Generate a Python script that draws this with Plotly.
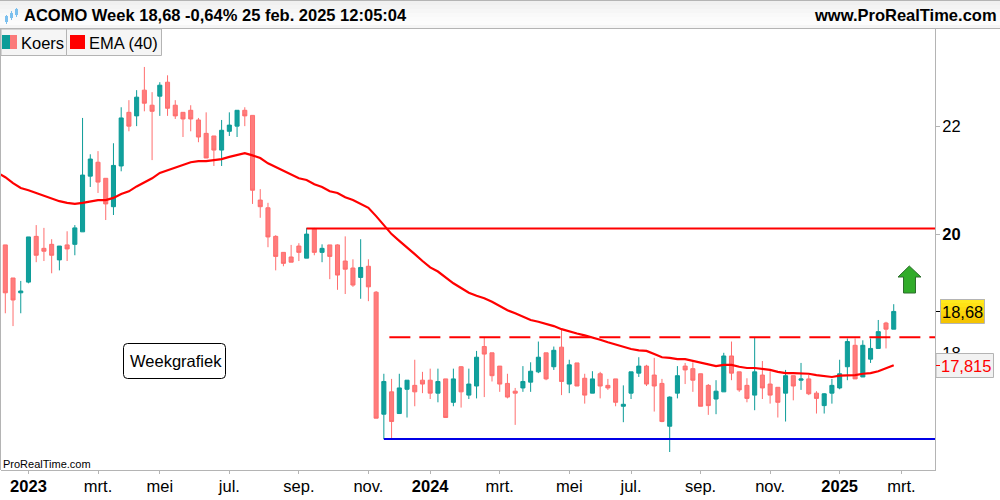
import math
import pandas as pd
import plotly.graph_objects as go

# weekly candles ACOMO
first_week = "2022-12-12"
opens = [19.81,19.24,18.99,19.17,19.96,19.75,19.82,19.55,19.81,19.82,20.04,21.05,21.31,21.01,20.49,21.24,22.27,22.20,22.71,22.41,
         22.59,22.87,22.41,22.27,22.31,22.12,21.86,21.81,21.54,21.90,22.00,22.31,22.21,20.61,20.47,19.96,19.68,19.60,19.79,19.58,
         20.09,19.68,19.81,19.81,19.53,19.41,19.25,19.44,19.00,17.06,17.40,17.07,17.44,17.50,17.58,17.58,17.38,17.60,17.24,17.79,
         17.35,17.49,18.11,18.01,17.80,17.53,17.41,17.46,17.55,17.71,18.01,17.79,18.10,17.52,17.85,17.61,17.38,17.68,17.50,17.60,
         17.18,17.38,17.69,17.80,17.66,17.53,16.88,17.38,17.80,17.76,17.68,17.50,17.29,17.40,17.96,17.71,17.50,17.35,17.66,17.52,
         17.47,17.38,17.65,17.58,17.60,17.38,17.19,17.38,17.46,17.79,18.13,17.63,17.91,18.08,18.49,18.39]
highs = [19.81,19.24,19.19,19.95,20.16,20.11,19.91,19.79,20.05,20.16,22.16,21.46,21.52,21.01,21.67,22.37,22.51,22.71,23.18,22.67,
         22.87,23.01,22.51,22.27,22.41,22.16,22.27,21.81,22.12,22.27,22.31,22.37,22.21,20.81,20.56,19.98,19.68,19.81,19.84,20.11,
         20.11,19.82,19.81,19.82,19.96,19.56,19.91,19.56,19.02,17.68,17.60,17.68,17.58,17.90,17.71,17.76,17.76,17.60,17.76,17.80,
         17.76,18.04,18.26,18.01,17.80,17.68,17.46,17.80,17.86,18.19,18.01,18.11,18.39,17.90,17.85,17.68,17.72,17.71,17.60,17.60,
         17.50,17.71,17.94,17.82,17.93,17.60,17.33,17.80,17.85,17.86,17.68,17.52,17.58,18.01,18.19,17.71,17.61,18.26,17.88,17.72,
         17.47,17.74,17.65,17.85,17.66,17.41,17.38,17.60,17.90,18.24,18.24,18.21,18.24,18.54,18.51,18.80]
lows = [18.65,18.44,18.65,19.15,19.51,19.53,19.32,19.37,19.53,19.63,20.04,20.85,20.74,20.25,20.34,21.14,21.90,22.00,22.29,21.35,
        22.20,22.20,22.14,21.79,21.90,21.69,21.39,21.24,21.24,21.81,21.79,22.00,20.54,20.29,19.77,19.37,19.44,19.51,19.53,19.58,
        19.63,19.51,19.22,19.04,18.97,19.09,18.89,18.85,17.00,16.69,16.69,17.07,17.01,17.18,17.38,17.29,17.24,17.01,17.18,17.16,
        17.29,17.30,17.32,17.56,17.40,17.30,16.90,17.40,17.40,17.69,17.58,17.74,17.35,17.38,17.49,17.22,17.38,17.30,17.43,17.18,
        16.94,17.29,17.63,17.49,17.10,16.94,16.50,17.30,17.52,17.40,17.18,17.05,17.06,17.40,17.58,17.40,17.24,17.12,17.29,17.22,
        17.01,16.95,17.27,17.43,17.35,17.07,17.07,17.22,17.44,17.58,17.60,17.63,17.85,18.08,18.08,18.39]
closes = [18.99,18.87,19.02,19.95,19.63,19.70,19.63,19.79,19.74,20.11,21.07,21.37,20.94,20.54,21.25,22.16,22.00,22.57,22.45,22.29,
          22.81,22.35,22.20,22.14,22.14,21.79,21.39,21.54,21.92,22.02,22.31,22.20,20.79,20.49,19.95,19.61,19.49,19.51,19.68,20.00,
          19.68,19.75,19.61,19.29,19.39,19.12,19.42,19.09,17.00,17.56,16.95,17.46,17.58,17.40,17.52,17.38,17.56,17.01,17.60,17.40,
          17.52,17.94,17.99,17.65,17.52,17.32,17.38,17.56,17.72,17.94,17.60,18.05,17.56,17.82,17.49,17.35,17.60,17.49,17.46,17.24,
          17.21,17.71,17.80,17.52,17.49,16.95,17.32,17.65,17.74,17.58,17.18,17.19,17.41,17.96,17.69,17.43,17.30,17.71,17.46,17.35,
          17.24,17.65,17.49,17.60,17.37,17.30,17.37,17.50,17.68,18.19,17.60,18.13,18.08,18.35,18.39,18.68]
# one week earlier than the candles so the line reaches the left edge
ema40 = [21.11,21.03,20.92,20.83,20.79,20.74,20.68,20.63,20.59,20.56,20.54,20.56,20.59,20.61,20.61,20.65,20.72,20.77,20.86,20.94,21.01,
         21.11,21.16,21.20,21.25,21.31,21.33,21.33,21.35,21.37,21.41,21.44,21.48,21.44,21.39,21.29,21.22,21.14,21.07,21.01,20.98,
         20.90,20.85,20.77,20.74,20.66,20.61,20.54,20.47,20.32,20.16,20.00,19.88,19.77,19.65,19.53,19.42,19.35,19.25,19.15,19.07,
         18.99,18.94,18.90,18.84,18.77,18.70,18.65,18.59,18.54,18.51,18.48,18.44,18.39,18.35,18.32,18.29,18.26,18.22,18.18,18.14,
         18.10,18.07,18.05,18.04,17.99,17.94,17.93,17.91,17.91,17.88,17.85,17.83,17.80,17.82,17.82,17.79,17.77,17.77,17.76,17.74,
         17.71,17.69,17.69,17.69,17.68,17.66,17.65,17.63,17.65,17.65,17.66,17.68,17.69,17.72,17.77,17.815]

tick_dates = ["2023-01-02","2023-03-06","2023-05-01","2023-07-03","2023-09-04","2023-11-06","2024-01-01",
              "2024-03-04","2024-05-06","2024-07-01","2024-09-02","2024-11-04","2025-01-06","2025-03-03"]
tick_names = ["<b>2023</b>","mrt.","mei","jul.","sep.","nov.","<b>2024</b>","mrt.","mei","jul.","sep.","nov.","<b>2025</b>","mrt."]

resistance = 20.1
dashed_level = 18.26
support = 16.69
last_price = "18,68"
last_ema = "17,815"

dates = pd.date_range(first_week, periods=len(opens), freq="7D")
ema_dates = pd.date_range(pd.Timestamp(first_week) - pd.Timedelta(days=7), periods=len(ema40), freq="7D")
x_start = pd.Timestamp(first_week) - pd.Timedelta(days=3.9)
x_end = pd.Timestamp(first_week) + pd.Timedelta(days=842.4)

GRAY = "#b4b4b4"
TEAL = "#0c9c98"
PINK = "#ff6e6e"
FONT = "Liberation Sans"


# pixel position in the window -> paper coords of the plot area
def px(x):
    return (x - 1) / 934


def py(y):
    return (470 - y) / 441


def rect(x0, y0, x1, y1, fill, line=None):
    return dict(type="rect", xref="paper", yref="paper", x0=px(x0), y0=py(y0), x1=px(x1), y1=py(y1),
                fillcolor=fill, line=dict(color=line, width=1) if line else dict(width=0))


def path(points, fill, line, close=True):
    d = "M " + " L ".join(f"{px(a)},{py(b)}" for a, b in points) + (" Z" if close else "")
    return dict(type="path", xref="paper", yref="paper", path=d, fillcolor=fill, line=dict(color=line, width=1))


def label(x, y, text, size=16.5, color="black", anchor="left"):
    return dict(xref="paper", yref="paper", x=px(x), y=py(y), text=text, showarrow=False, xanchor=anchor,
                yanchor="middle", font=dict(family=FONT, size=size, color=color))


fig = go.Figure()
fig.add_trace(go.Candlestick(x=dates, open=opens, high=highs, low=lows, close=closes,
                             increasing=dict(line=dict(color=TEAL, width=1), fillcolor="#11a09c"),
                             decreasing=dict(line=dict(color=PINK, width=1), fillcolor="#ff7c7c"),
                             whiskerwidth=0))
fig.add_trace(go.Scatter(x=ema_dates, y=ema40, mode="lines", line=dict(color="#ff0000", width=2.2)))
fig.add_trace(go.Scatter(x=[dates[39], x_end], y=[resistance, resistance], mode="lines",
                         line=dict(color="#ff0000", width=2)))
fig.add_trace(go.Scatter(x=[dates[49] + pd.Timedelta(days=5), x_end], y=[dashed_level, dashed_level], mode="lines",
                         line=dict(color="#ff0000", width=2, dash="21px,9px")))
fig.add_trace(go.Scatter(x=[dates[49], x_end], y=[support, support], mode="lines",
                         line=dict(color="#0000e6", width=2)))

shapes = []
# header band
for k, col in enumerate(["#f0f0f0", "#f3f3f3", "#f6f6f6", "#f9f9f9", "#fbfbfb", "#fcfcfc", "#f6f6f6"]):
    shapes.append(rect(0, 1 + k * 4, 1000, 5 + k * 4, col))
shapes.append(rect(0, 0, 1000, 1, GRAY))
shapes.append(rect(0, 28, 1000, 29, GRAY))
shapes.append(rect(0, 29, 1, 470, GRAY))
# icon in the header
for x, y0, y1, b0, b1 in [(6, 15, 24, 16, 22), (11, 11, 20, 13, 18), (16, 8, 17, 9, 15)]:
    shapes.append(rect(x, y0, x + 1, y1, "#7cc0ee"))
    shapes.append(rect(x - 1, b0, x + 2, b1, "#7cc0ee"))
# legend boxes
shapes.append(rect(1, 29, 66.5, 55.5, "#f5f5f5", GRAY))
shapes.append(rect(66.5, 29, 161.5, 55.5, "#f5f5f5", GRAY))
shapes.append(rect(2, 35, 10, 49, "#0d9c98"))
shapes.append(rect(10, 35, 17, 49, "#fb7a7a"))
shapes.append(rect(70, 35, 85, 49, "#ff0000"))
# price boxes
gold = ["#ffe81e", "#ffe216", "#fddb10", "#fad40a", "#f7cc06", "#f4c402"]
for k, col in enumerate(gold):
    shapes.append(rect(940, 299 + k * 4, 985, 303 + k * 4, col))
shapes.append(rect(940.5, 299.5, 984.5, 323.5, "rgba(0,0,0,0)", GRAY))
shapes.append(rect(936, 353.5, 993.5, 377.5, "#f2f2f2", GRAY))
shapes.append(rect(936, 311, 940, 312, "#000000"))
shapes.append(rect(936, 365, 940, 366, "#ff0000"))
# rounded note box
r = 4
xa, xb, ya, yb = 123.5, 225.5, 343.5, 378.5
note = (f"M {px(xa + r)},{py(ya)} L {px(xb - r)},{py(ya)} Q {px(xb)},{py(ya)} {px(xb)},{py(ya + r)} "
        f"L {px(xb)},{py(yb - r)} Q {px(xb)},{py(yb)} {px(xb - r)},{py(yb)} L {px(xa + r)},{py(yb)} "
        f"Q {px(xa)},{py(yb)} {px(xa)},{py(yb - r)} L {px(xa)},{py(ya + r)} Q {px(xa)},{py(ya)} {px(xa + r)},{py(ya)} Z")
shapes.append(dict(type="path", xref="paper", yref="paper", path=note, fillcolor="white", line=dict(color="black", width=1)))
# green arrow
shapes.append(path([(909.3, 266), (921, 277), (915.5, 277), (915.5, 293), (903.5, 293), (903.5, 277), (898, 277)],
                   "#31ac2a", "#2c6e2c"))

annotations = [
    label(22, 15, "<b>ACOMO Week 18,68 -0,64% 25 feb. 2025 12:05:04</b>"),
    label(999, 15, "<b>www.ProRealTime.com</b>", anchor="right"),
    label(19, 43, "Koers"),
    label(87, 43, "EMA (40)"),
    label(175.5, 361, "Weekgrafiek", anchor="center"),
    label(1, 464, "ProRealTime.com", size=11),
    label(962.5, 312, last_price, anchor="center"),
    label(966.5, 366, last_ema, color="#ff0000", anchor="center"),
]

fig.update_layout(
    width=1000, height=500, autosize=False,
    margin=dict(l=1, r=65, t=29, b=30),
    paper_bgcolor="white", plot_bgcolor="white",
    showlegend=False, boxgap=0.25,
    font=dict(family=FONT, size=16.5, color="black"),
    shapes=shapes, annotations=annotations,
    xaxis=dict(type="date", range=[x_start, x_end], rangeslider=dict(visible=False), showgrid=False,
               tickmode="array", tickvals=tick_dates, ticktext=tick_names, ticks="outside", ticklen=3,
               ticklabelstandoff=-2,
               tickcolor=GRAY, showline=True, linecolor=GRAY, linewidth=1, zeroline=False),
    yaxis=dict(type="log", side="right", range=[math.log10(16.24), math.log10(23.97)], showgrid=False,
               tickmode="array", tickvals=[18, 20, 22], ticktext=["18", "<b>20</b>", "22"], ticks="outside",
               ticklen=4, ticklabelstandoff=-1, tickcolor=GRAY, showline=True, linecolor=GRAY, linewidth=1, zeroline=False),
)

fig.write_html("out.html", config={"displayModeBar": False},
               post_script="document.body.style.margin='0';document.body.style.overflow='hidden';")
